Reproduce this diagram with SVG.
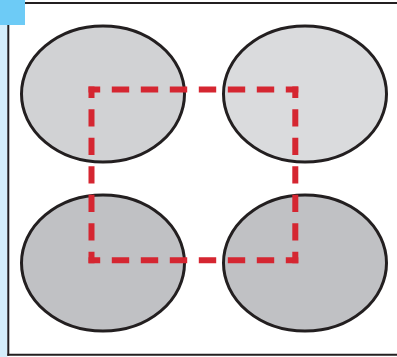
<svg xmlns="http://www.w3.org/2000/svg" width="397" height="357" viewBox="0 0 397 357">
  <style>
    .frame { stroke: #231f20; stroke-width: 2; fill: none; }
    .oval { stroke: #231f20; stroke-width: 3; }
    .dash { stroke: #d52631; stroke-width: 6; fill: none; stroke-linecap: butt; }
    .h { stroke-dasharray: 17.4 11.6; stroke-dashoffset: 5.7; }
    .v { stroke-dasharray: 17.2 11.27; stroke-dashoffset: 5.6; }
  </style>
  <rect x="0" y="0" width="397" height="357" fill="#ffffff"/>
  <g id="frame">
    <rect x="0" y="0" width="7.5" height="357" fill="#d5eefb"/>
    <line class="frame" x1="8.3" y1="24" x2="8.3" y2="355.8"/>
    <line class="frame" x1="25" y1="3" x2="397" y2="3" stroke="#2d3740"/>
    <line class="frame" x1="7.3" y1="354.8" x2="397" y2="354.8"/>
    <rect x="0" y="0" width="25" height="25" fill="#6dcbf6"/>
  </g>
  <g id="ellipse-top-left">
    <ellipse class="oval" cx="103" cy="94" rx="81.5" ry="68" fill="#d1d2d4"/>
  </g>
  <g id="ellipse-top-right">
    <ellipse class="oval" cx="305" cy="94" rx="81.5" ry="68" fill="#dadbdd"/>
  </g>
  <g id="ellipse-bottom-left">
    <ellipse class="oval" cx="103" cy="263" rx="81.5" ry="68" fill="#c0c1c4"/>
  </g>
  <g id="ellipse-bottom-right">
    <ellipse class="oval" cx="305" cy="263" rx="81.5" ry="68" fill="#c0c1c4"/>
  </g>
  <g id="connectors">
    <line class="dash h" x1="88.5" y1="89.5" x2="298.3" y2="89.5"/>
    <line class="dash h" x1="88.5" y1="260.3" x2="298.3" y2="260.3"/>
    <line class="dash v" x1="91.5" y1="86.5" x2="91.5" y2="263.3"/>
    <line class="dash v" x1="295.3" y1="86.5" x2="295.3" y2="263.3"/>
  </g>
</svg>
